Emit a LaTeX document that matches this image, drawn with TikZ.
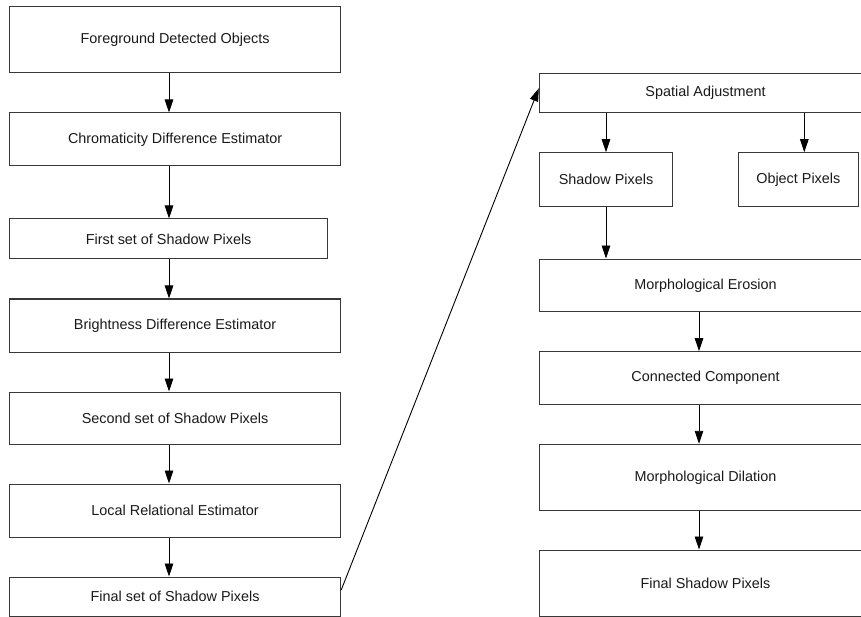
\documentclass[tikz,border=0pt]{standalone}
\usepackage{fontspec}
\setmainfont{Liberation Sans}
\usetikzlibrary{arrows.meta}
\begin{document}
\begin{tikzpicture}[x=1pt,y=-1pt,
  box/.style={draw=black!78, line width=1pt, rectangle, inner sep=0pt,
    font=\fontsize{14.4}{17}\selectfont, text=black!90},
  lbox/.style={box, minimum width=331.2pt},
  rbox/.style={box, minimum width=332.4pt},
  arr/.style={draw=black, line width=0.9pt, -{Triangle[length=13pt,width=8.5pt]}}]
\useasboundingbox (0,0) rectangle (861,617);
\clip (0,0) rectangle (861,617);
% left column
\node[lbox, minimum height=66pt] (n1) at (175.1,40) {Foreground Detected Objects};
\node[lbox, minimum height=53pt] (n2) at (175.1,139.5) {Chromaticity Difference Estimator};
\node[box, minimum width=318.2pt, minimum height=40pt] (n3) at (168.6,239) {First set of Shadow Pixels};
\node[lbox, minimum height=53pt] (n4) at (175.1,325.5) {Brightness Difference Estimator};
\node[lbox, minimum height=52pt] (n5) at (175.1,418) {Second set of Shadow Pixels};
\node[lbox, minimum height=53pt] (n6) at (175.1,510.5) {Local Relational Estimator};
\node[lbox, minimum height=39pt] (n7) at (175.1,596.5) {Final set of Shadow Pixels};
% right column
\node[rbox, minimum height=39.4pt] (r0) at (705.5,93) {Spatial Adjustment};
\node[box, minimum width=133.4pt, minimum height=53.3pt] (r1) at (606,179.4) {Shadow Pixels};
\node[box, minimum width=120pt, minimum height=53.3pt] (r2) at (798.3,179.4) {Object Pixels};
\node[rbox, minimum height=52.7pt] (r3) at (705.5,285.4) {Morphological Erosion};
\node[rbox, minimum height=52.6pt] (r4) at (705.5,378) {Connected Component};
\node[rbox, minimum height=66pt] (r5) at (705.5,477.3) {Morphological Dilation};
\node[rbox, minimum height=66pt] (r6) at (705.5,583) {Final Shadow Pixels};
% arrow columns
\coordinate (lx) at (169,0);
\coordinate (rx) at (699,0);
\coordinate (ox) at (804.3,0);
% left arrows
\draw[arr] (n1.south -| lx) -- (n2.north -| lx);
\draw[arr] (n2.south -| lx) -- (n3.north -| lx);
\draw[arr] (n3.south -| lx) -- (n4.north -| lx);
\draw[arr] (n4.south -| lx) -- (n5.north -| lx);
\draw[arr] (n5.south -| lx) -- (n6.north -| lx);
\draw[arr] (n6.south -| lx) -- (n7.north -| lx);
% cross arrow
\draw[arr] ([yshift=6.5pt]n7.east) -- ([yshift=4.7pt]r0.west);
% right arrows
\draw[arr] (r0.south -| r1) -- (r1.north);
\draw[arr] (r0.south -| ox) -- (r2.north -| ox);
\draw[arr] (r1.south) -- (r3.north -| r1);
\draw[arr] (r3.south -| rx) -- (r4.north -| rx);
\draw[arr] (r4.south -| rx) -- (r5.north -| rx);
\draw[arr] (r5.south -| rx) -- (r6.north -| rx);
\end{tikzpicture}
\end{document}
